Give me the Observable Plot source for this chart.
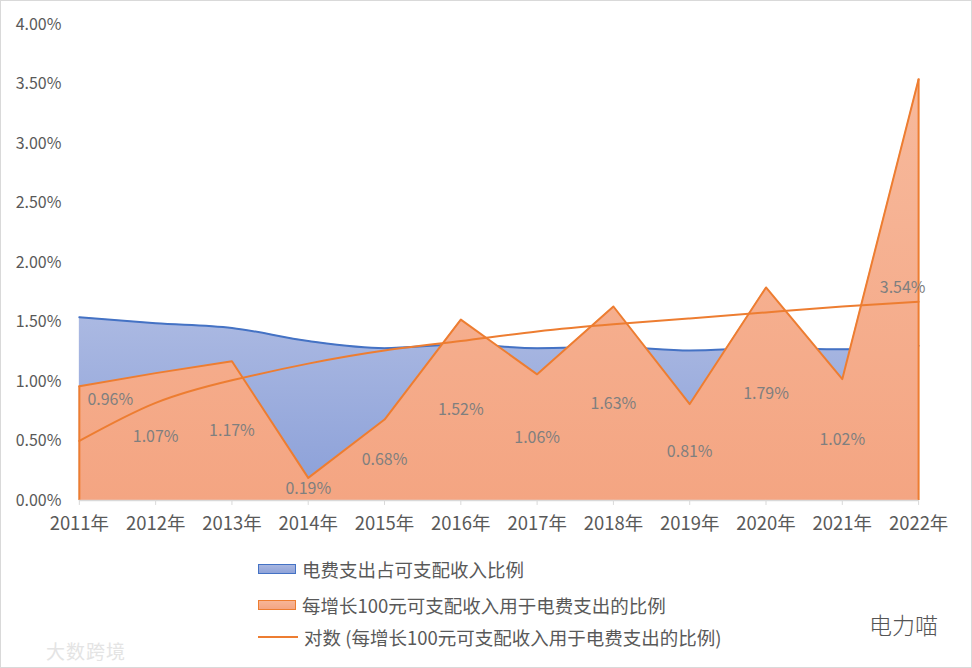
<!DOCTYPE html>
<html><head><meta charset="utf-8">
<script src="https://cdn.jsdelivr.net/npm/d3@7"></script>
<script src="https://cdn.jsdelivr.net/npm/@observablehq/plot@0.6"></script>
<style>
html,body{margin:0;padding:0;background:#fff;}
#frame{position:relative;width:972px;height:668px;box-sizing:border-box;border:1px solid #d9d9d9;overflow:hidden;font-family:"Noto Sans CJK SC","Noto Sans",sans-serif;}
#chart{position:absolute;left:0;top:0;}
.leg{position:absolute;left:257px;display:flex;align-items:center;font-size:18.5px;color:#595959;white-space:nowrap;}
.sw{width:38px;height:10px;margin-right:6px;box-sizing:border-box;}
.ln{width:40px;height:2px;margin-right:6px;background:#ed7d31;}
.wm1{position:absolute;left:45px;top:636px;font-size:19px;color:#e4e4e4;letter-spacing:1px;}
.wm2{position:absolute;left:868px;top:606px;font-size:23px;color:#555;font-weight:300;}
</style></head>
<body>
<div id="frame">
<div id="chart"></div>
<div class="leg" style="top:555px"><div class="sw" style="background:linear-gradient(#a8b6e0,#8fa3d9);border:1.5px solid #4472c4"></div><span id="l1"></span></div>
<div class="leg" style="top:591px"><div class="sw" style="background:linear-gradient(#f7b596,#f4a582);border:1.5px solid #ed7d31"></div><span id="l2"></span></div>
<div class="leg" style="top:623px"><div class="ln"></div><span id="l3"></span></div>
<div class="wm1">大数跨境</div>
<div class="wm2">电力喵</div>
</div>
<script>
const years = [2011,2012,2013,2014,2015,2016,2017,2018,2019,2020,2021,2022];
const shareOfIncome = [1.54,1.49,1.45,1.34,1.28,1.31,1.28,1.29,1.26,1.28,1.27,1.30];
const marginalShare = [0.96,1.07,1.17,0.19,0.68,1.52,1.06,1.63,0.81,1.79,1.02,3.54];
const logTrend = [0.50,0.82,1.01,1.15,1.26,1.34,1.42,1.48,1.53,1.58,1.63,1.67];
const yTicks = [0,0.5,1,1.5,2,2.5,3,3.5,4];
const seriesNames = ["电费支出占可支配收入比例","每增长100元可支配收入用于电费支出的比例","对数 (每增长100元可支配收入用于电费支出的比例)"];

document.getElementById("l1").textContent = seriesNames[0];
document.getElementById("l2").textContent = seriesNames[1];
document.getElementById("l3").textContent = seriesNames[2];

const blue = years.map((y,i)=>({year:y, v:shareOfIncome[i]}));
const orange = years.map((y,i)=>({year:y, v:marginalShare[i], i}));
const trend = years.map((y,i)=>({year:y, v:logTrend[i]}));
const ends = [0, 11].map(i=>({year:years[i], v:marginalShare[i]}));

const W = 972, H = 545;
const chart = Plot.plot({
  width: W, height: H,
  marginLeft: 78, marginRight: 53, marginTop: 23, marginBottom: H-500,
  style: {fontFamily: '"Noto Sans CJK SC","Noto Sans",sans-serif', fontSize: "16px", color: "#595959", background: "transparent"},
  x: {domain: [2011, 2022], axis: null},
  y: {domain: [0, 4], axis: null},
  marks: [
    Plot.areaY(blue, {x:"year", y:"v", fill:"url(#gBlue)", curve:"monotone-x"}),
    Plot.lineY(blue, {x:"year", y:"v", stroke:"#4472c4", strokeWidth:2, curve:"monotone-x"}),
    Plot.areaY(orange, {x:"year", y:"v", fill:"url(#gOrange)"}),
    Plot.lineY(orange, {x:"year", y:"v", stroke:"#ed7d31", strokeWidth:2}),
    Plot.ruleX(ends, {x:"year", y1:0, y2:"v", stroke:"#ed7d31", strokeWidth:2}),
    Plot.ruleY([0], {stroke:"#d9d9d9", strokeWidth:1.5}),
    Plot.axisX({ticks: years, tickFormat: d => d + "年", tickSize: 5, stroke:"#d9d9d9", tickPadding: 11, fill:"#595959", fontSize: 18.5, label: null}),
    Plot.axisY({ticks: yTicks, tickFormat: d => d.toFixed(2) + "%", tickSize: 0, tickPadding: 18, fill:"#595959", fontSize: 16, label: null}),
    Plot.line(trend, {x:"year", y:"v", stroke:"#ed7d31", strokeWidth:2, curve:"natural"}),
    Plot.text(orange.filter(d=>d.i>0 && d.i<11), {x:"year", y:d=>d.v/2, text:d=>d.v.toFixed(2)+"%", fill:"#7f7f7f", fontSize:16}),
    Plot.text(orange.filter(d=>d.i===0), {x:"year", y:d=>d.v/2, text:d=>d.v.toFixed(2)+"%", fill:"#7f7f7f", fontSize:16, dx:31, dy:-44}),
    Plot.text(orange.filter(d=>d.i===11), {x:"year", y:d=>d.v/2, text:d=>d.v.toFixed(2)+"%", fill:"#7f7f7f", fontSize:16, dx:-16, dy:-2})
  ]
});
chart.insertAdjacentHTML("afterbegin", `<defs>
<linearGradient id="gBlue" x1="0" y1="0" x2="0" y2="1" gradientUnits="objectBoundingBox"><stop offset="0" stop-color="#abb9e2"/><stop offset="1" stop-color="#8a9fd8"/></linearGradient>
<linearGradient id="gOrange" x1="0" y1="0" x2="0" y2="1" gradientUnits="objectBoundingBox"><stop offset="0" stop-color="#f7b99c"/><stop offset="1" stop-color="#f4a582"/></linearGradient>
</defs>`);
document.getElementById("chart").appendChild(chart);
</script>
</body></html>
